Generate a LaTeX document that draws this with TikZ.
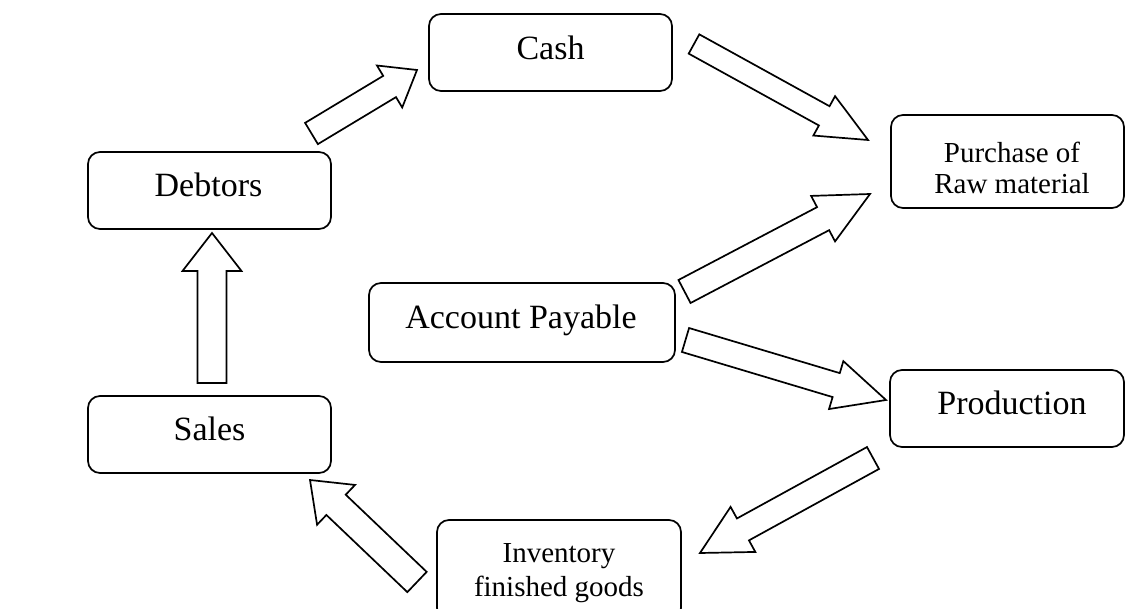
\documentclass[tikz,border=0pt]{standalone}
\usepackage{fontspec}
\setmainfont{Liberation Serif}
\usetikzlibrary{calc}
\tikzset{
  box/.style={draw=black, line width=1.7pt, rounded corners=12pt, inner sep=0pt, fill=white},
  big/.style={font=\fontsize{34}{40}\selectfont, inner sep=0pt, anchor=base},
  small/.style={font=\fontsize{29}{32}\selectfont, inner sep=0pt, anchor=base},
  blk/.style={draw=black, line width=1.7pt, fill=white, line join=miter},
}
\newcommand{\blkarrow}[5]{%
  \coordinate (#1-b) at ($(#2)!#5!(#1)$);
  \draw[blk] ($(#1)!#3!90:(#2)$) -- ($(#1-b)!#3!90:(#2)$) -- ($(#1-b)!#4!90:(#2)$) -- (#2)
    -- ($(#1-b)!#4!-90:(#2)$) -- ($(#1-b)!#3!-90:(#2)$) -- ($(#1)!#3!-90:(#2)$) -- cycle;}
\begin{document}
\begin{tikzpicture}[x=1pt,y=-1pt]
\useasboundingbox (0,0) rectangle (1126,609);
\clip (0,0) rectangle (1126,609);
\fill[white] (0,0) rectangle (1126,609);

% boxes
\node[box, minimum width=243pt, minimum height=77pt] (cash) at (550.5,52.5) {};
\node[box, minimum width=243pt, minimum height=77pt] (debtors) at (209.5,190.5) {};
\node[box, minimum width=243pt, minimum height=77pt] (sales) at (209.5,434.5) {};
\node[box, minimum width=233pt, minimum height=93pt] (purchase) at (1007.5,161.5) {};
\node[box, minimum width=306pt, minimum height=79pt] (ap) at (522,322.5) {};
\node[box, minimum width=234pt, minimum height=77pt] (production) at (1007,408.5) {};
\node[box, minimum width=244pt, minimum height=100pt] (inventory) at (559,570) {};

% texts
\node[big] (cash-t) at (550.5,60) {Cash};
\node[big] (debtors-t) at (208.5,197) {Debtors};
\node[big] (sales-t) at (209.5,440) {Sales};
\node[small] (purchase-t1) at (1012,163) {Purchase of};
\node[small] (purchase-t2) at (1012,194) {Raw material};
\node[big] (ap-t) at (521,328) {Account Payable};
\node[big] (production-t) at (1012,414) {Production};
\node[small] (inventory-t1) at (559,562) {Inventory};
\node[small] (inventory-t2) at (559,596) {finished goods};

% arrow end points
\coordinate (a1t) at (311.5,133.5); \coordinate (a1h) at (417,70);
\coordinate (a2t) at (694,44);      \coordinate (a2h) at (868,140);
\coordinate (a3t) at (684.5,291.5); \coordinate (a3h) at (870,194);
\coordinate (a4t) at (685.5,340);   \coordinate (a4h) at (886,400);
\coordinate (a5t) at (873,458);     \coordinate (a5h) at (700,553);
\coordinate (a6t) at (417,582);     \coordinate (a6h) at (310,480);
\coordinate (a7t) at (212,383);     \coordinate (a7h) at (212,233);

\blkarrow{a1t}{a1h}{12.4pt}{24.5pt}{32pt}
\blkarrow{a2t}{a2h}{11pt}{22.5pt}{50pt}
\blkarrow{a3t}{a3h}{13pt}{25.7pt}{53pt}
\blkarrow{a4t}{a4h}{12.5pt}{25pt}{52pt}
\blkarrow{a5t}{a5h}{12.5pt}{25.7pt}{49pt}
\blkarrow{a6t}{a6h}{14pt}{27.5pt}{36pt}
\blkarrow{a7t}{a7h}{14.5pt}{29.5pt}{38pt}
\end{tikzpicture}
\end{document}
